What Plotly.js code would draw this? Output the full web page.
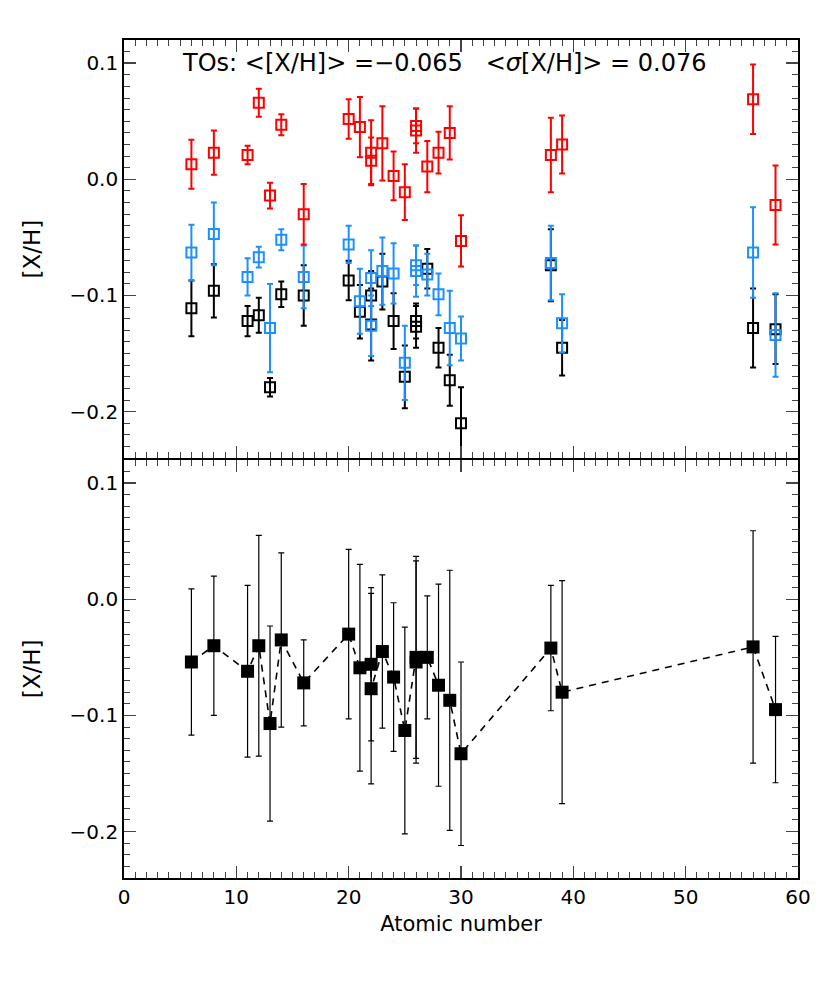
<!DOCTYPE html>
<html>
<head>
<meta charset="utf-8">
<script src="https://cdn.plot.ly/plotly-3.0.1.min.js"></script>
<style>
  body { margin: 0; background: #fff; }
  #plot { width: 830px; height: 998px; }
</style>
</head>
<body>
<div id="plot"></div>
<script>
// atomic numbers of the measured species (22 and 26 appear twice: neutral + ion)
const Z = [6, 8, 11, 12, 13, 14, 16, 20, 21, 22, 22, 23, 24, 25, 26, 26, 27, 28, 29, 30, 38, 39, 56, 58];

// top panel, red open squares
const redVal = [0.013, 0.023, 0.021, 0.066, -0.014, 0.047, -0.030, 0.052, 0.045, 0.023, 0.016, 0.031, 0.003, -0.011, 0.046, 0.042, 0.011, 0.023, 0.040, -0.053, 0.021, 0.030, 0.069, -0.022];
const redErr = [0.021, 0.019, 0.008, 0.012, 0.011, 0.009, 0.026, 0.017, 0.026, 0.028, 0.020, 0.032, 0.021, 0.024, 0.015, 0.019, 0.022, 0.018, 0.023, 0.022, 0.032, 0.025, 0.030, 0.034];

// top panel, blue open squares
const blueVal = [-0.063, -0.047, -0.084, -0.067, -0.128, -0.052, -0.084, -0.056, -0.105, -0.085, -0.126, -0.079, -0.081, -0.158, -0.074, -0.079, -0.082, -0.099, -0.128, -0.137, -0.072, -0.124, -0.063, -0.134];
const blueErr = [0.024, 0.027, 0.016, 0.009, 0.038, 0.009, 0.027, 0.016, 0.028, 0.024, 0.026, 0.029, 0.026, 0.032, 0.017, 0.022, 0.018, 0.018, 0.032, 0.019, 0.032, 0.025, 0.039, 0.036];

// top panel, black open squares
const blackVal = [-0.111, -0.096, -0.122, -0.117, -0.179, -0.099, -0.100, -0.087, -0.114, -0.100, -0.125, -0.088, -0.122, -0.170, -0.122, -0.127, -0.077, -0.145, -0.173, -0.210, -0.074, -0.145, -0.128, -0.129];
const blackErr = [0.024, 0.023, 0.013, 0.015, 0.008, 0.011, 0.026, 0.017, 0.023, 0.021, 0.031, 0.024, 0.024, 0.027, 0.015, 0.018, 0.017, 0.017, 0.022, 0.031, 0.031, 0.024, 0.034, 0.030];

// bottom panel, filled squares joined by a dashed line
const meanVal = [-0.054, -0.040, -0.062, -0.040, -0.107, -0.035, -0.072, -0.030, -0.059, -0.056, -0.077, -0.045, -0.067, -0.113, -0.050, -0.054, -0.050, -0.074, -0.087, -0.133, -0.042, -0.080, -0.041, -0.095];
const meanErr = [0.063, 0.060, 0.074, 0.095, 0.084, 0.075, 0.037, 0.073, 0.089, 0.066, 0.082, 0.066, 0.064, 0.089, 0.087, 0.087, 0.053, 0.087, 0.112, 0.079, 0.054, 0.096, 0.100, 0.063];

const xTicks = [0, 10, 20, 30, 40, 50, 60];
const yTicks = [-0.2, -0.1, 0.0, 0.1];

const FONT = "DejaVu Sans, sans-serif";

function openSquares(vals, errs, color) {
  return {
    x: Z, y: vals, xaxis: "x2", yaxis: "y2",
    type: "scatter", mode: "markers",
    marker: { symbol: "square-open", size: 10, color: color, line: { width: 2, color: color } },
    error_y: { type: "data", array: errs, visible: true, color: color, thickness: 2, width: 3 },
    hoverinfo: "skip", showlegend: false
  };
}

const traces = [
  openSquares(blackVal, blackErr, "#000000"),
  openSquares(blueVal, blueErr, "#1e8fff"),
  openSquares(redVal, redErr, "#ff0000"),
  {
    x: Z, y: meanVal, xaxis: "x", yaxis: "y",
    type: "scatter", mode: "lines+markers",
    line: { color: "#000", width: 1.6, dash: "7px,6px" },
    marker: { symbol: "square", size: 13, color: "#000" },
    error_y: { type: "data", array: meanErr, visible: true, color: "#000", thickness: 1.2, width: 3 },
    hoverinfo: "skip", showlegend: false
  }
];

const xAxisBase = {
  range: [0, 60], tickvals: xTicks, ticks: "inside", ticklen: 12, tickwidth: 1.5,
  showline: true, linewidth: 1.8, linecolor: "#000", mirror: "allticks",
  showgrid: false, zeroline: false,
  minor: { dtick: 1, ticks: "inside", ticklen: 6, tickwidth: 1, showgrid: false },
  tickfont: { family: FONT, size: 20, color: "#000" }
};
const yAxisBase = {
  range: [-0.24, 0.12], tickvals: yTicks, tickformat: ".1f",
  ticks: "inside", ticklen: 12, tickwidth: 1.5,
  showline: true, linewidth: 1.8, linecolor: "#000", mirror: "allticks",
  showgrid: false, zeroline: false,
  minor: { dtick: 0.01, tick0: 0, ticks: "inside", ticklen: 6, tickwidth: 1, showgrid: false },
  tickfont: { family: FONT, size: 20, color: "#000" },
  title: { text: "[X/H]", font: { family: FONT, size: 23, color: "#000" }, standoff: 22 }
};

const layout = {
  width: 830, height: 998,
  margin: { l: 124, r: 32, t: 40, b: 120 },
  paper_bgcolor: "#fff", plot_bgcolor: "#fff",
  xaxis: Object.assign({}, xAxisBase, {
    anchor: "y",
    title: { text: "Atomic number", font: { family: FONT, size: 21, color: "#000" }, standoff: 8 }
  }),
  yaxis: Object.assign({}, yAxisBase, { domain: [0, 0.4989], anchor: "x" }),
  xaxis2: Object.assign({}, xAxisBase, { anchor: "y2", showticklabels: false }),
  yaxis2: Object.assign({}, yAxisBase, { domain: [0.5011, 1], anchor: "x2" }),
  annotations: [{
    xref: "x2", yref: "y2", x: 28.5, y: 0.1, xanchor: "center", yanchor: "middle",
    showarrow: false,
    text: "TOs: &lt;[X/H]&gt; =\u22120.065   &lt;<i>\u03c3</i>[X/H]&gt; = 0.076",
    font: { family: FONT, size: 24, color: "#000" }
  }]
};

Plotly.newPlot("plot", traces, layout, { staticPlot: true });
</script>
</body>
</html>
